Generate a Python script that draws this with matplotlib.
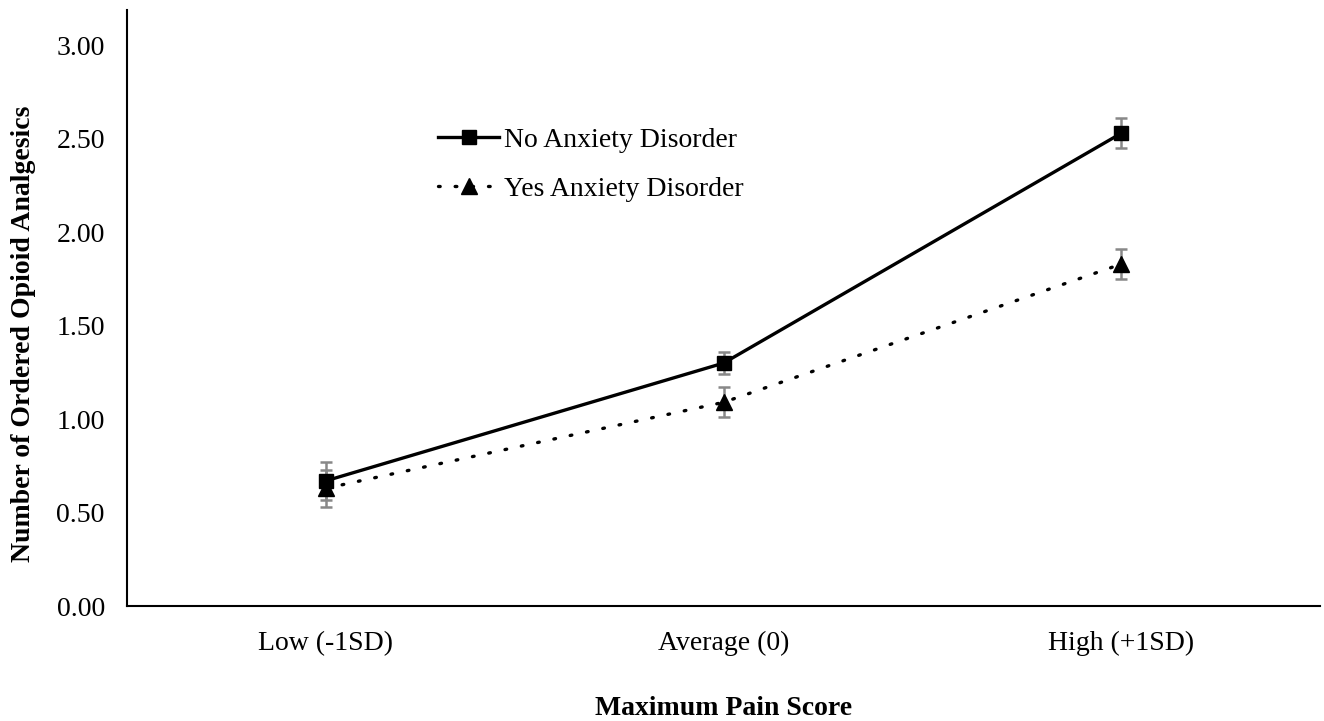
import matplotlib.pyplot as plt

plt.rcParams['font.family'] = ['Liberation Serif', 'DejaVu Serif']

categories = ['Low (-1SD)', 'Average (0)', 'High (+1SD)']
no_anxiety = [0.67, 1.30, 2.53]
no_anxiety_err = [0.10, 0.06, 0.08]
yes_anxiety = [0.63, 1.09, 1.83]
yes_anxiety_err = [0.10, 0.08, 0.08]
yticks = [0.0, 0.5, 1.0, 1.5, 2.0, 2.5, 3.0]

fig = plt.figure(figsize=(13.24, 7.21), dpi=100)
ax = fig.add_axes([127 / 1324, 1 - 606 / 721, 1193 / 1324, 596 / 721])

x = list(range(len(categories)))

ax.errorbar(x, yes_anxiety, yerr=yes_anxiety_err, fmt='none', ecolor='#888888',
            elinewidth=1.8, capsize=4, capthick=1.8, zorder=2)
ax.errorbar(x, no_anxiety, yerr=no_anxiety_err, fmt='none', ecolor='#888888',
            elinewidth=1.8, capsize=4, capthick=1.8, zorder=2)

ax.plot(x, no_anxiety, color='black', linewidth=2.4, marker='s', markersize=10,
        label='No Anxiety Disorder', zorder=3)
ax.plot(x, yes_anxiety, color='black', linewidth=2.4, linestyle=(0, (0.5, 4.5)),
        dash_capstyle='round', marker='^', markersize=12,
        label='Yes Anxiety Disorder', zorder=3)

ax.set_xlim(-0.5, 2.5)
ax.set_ylim(0, 3.19)
ax.set_xticks(x)
ax.set_xticklabels(categories)
ax.set_yticks(yticks)
ax.set_yticklabels([f'{v:.2f}' for v in yticks])
ax.tick_params(axis='both', length=0, labelsize=20)
ax.tick_params(axis='x', pad=18)
ax.tick_params(axis='y', pad=16)

for s in ['top', 'right']:
    ax.spines[s].set_visible(False)
for s in ['left', 'bottom']:
    ax.spines[s].set_linewidth(1.5)

ax.set_xlabel('Maximum Pain Score', fontsize=20, fontweight='bold', labelpad=29)
ax.set_ylabel('Number of Ordered Opioid Analgesics', fontsize=20, fontweight='bold')
ax.yaxis.set_label_coords(-0.076, 0.456)

ax.legend(loc='upper left', bbox_to_anchor=(0.24, 0.845), frameon=False, fontsize=20,
          handlelength=2.2, handletextpad=0.15, labelspacing=0.85)

fig.savefig('out.png', dpi=100)
